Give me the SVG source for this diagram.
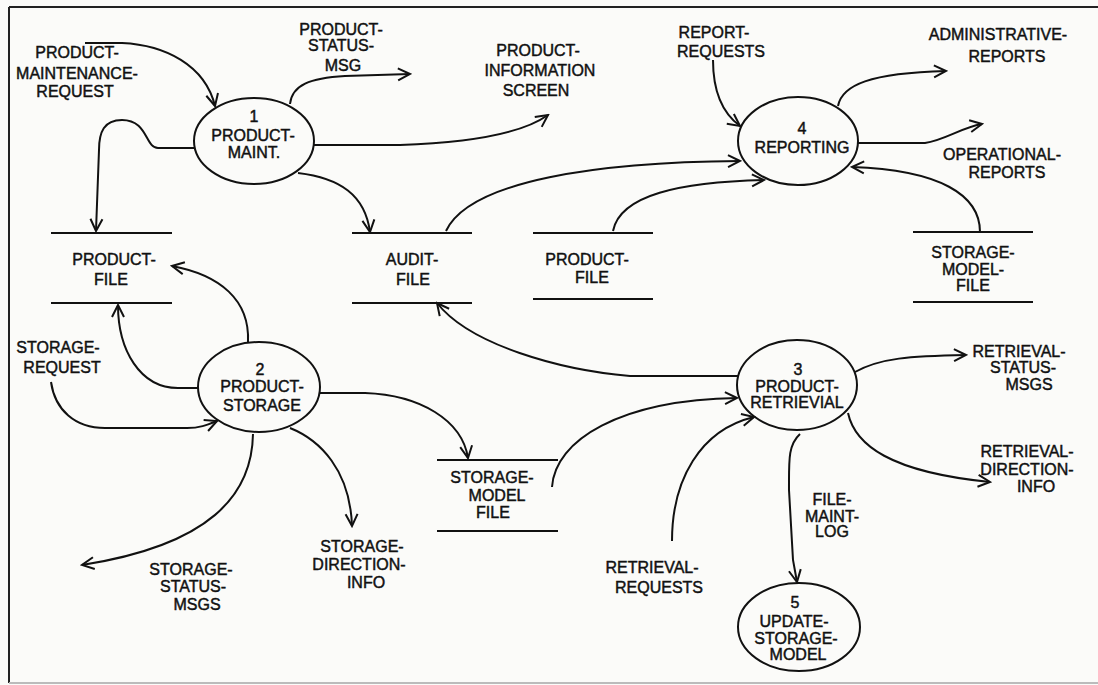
<svg xmlns="http://www.w3.org/2000/svg" width="1098" height="685" viewBox="0 0 1098 685">
<defs>
<marker id="arr" viewBox="-14 -8 16 16" refX="0" refY="0" markerWidth="16" markerHeight="16" markerUnits="userSpaceOnUse" orient="auto">
<path d="M-12,-6 L0,0 L-12,6" fill="none" stroke="#111" stroke-width="2"/>
</marker>
<style>
text{font-family:"Liberation Sans",Arial,sans-serif;font-size:16px;fill:#111;stroke:#111;stroke-width:0.45;text-anchor:middle}
.proc{fill:none;stroke:#111;stroke-width:2}
.store line{stroke:#111;stroke-width:2}
#connectors path{fill:none;stroke:#111;stroke-width:2;marker-end:url(#arr)}
</style>
</defs>
<rect x="0" y="0" width="1098" height="685" fill="#fbfbf9"/>
<g id="frame">
<line x1="9" y1="7" x2="1098" y2="7" stroke="#222" stroke-width="2"/>
<line x1="9" y1="7" x2="9" y2="683" stroke="#222" stroke-width="2"/>
<line x1="9" y1="683" x2="1098" y2="683" stroke="#bbb" stroke-width="2"/>
</g>

<g id="connectors">
<path d="M85,43 H122 C165,45 205,65 215,106"/>
<path d="M290,104 C292,85 310,78 345,76 L410,74"/>
<path d="M314,145 L400,145 C460,143 520,135 548,115"/>
<path d="M194,148 H158 C145,148 148,120 122,120 C104,120 99,132 99,150 L96,231"/>
<path d="M298,173 C340,178 365,195 370,232"/>
<path d="M248,342 C250,300 220,275 172,266"/>
<path d="M198,388 H178 C140,388 118,350 118,305"/>
<path d="M51,382 C55,410 75,428 105,428 H187 C200,428 207,425 217,421"/>
<path d="M320,393 H365 C420,395 462,420 468,458"/>
<path d="M290,428 C320,440 350,470 352,526"/>
<path d="M253,434 C252,495 210,545 82,565"/>
<path d="M738,376 H630 C560,370 470,345 437,303"/>
<path d="M552,487 C555,440 620,400 737,398"/>
<path d="M672,541 C672,480 700,430 754,417"/>
<path d="M855,372 C880,358 910,356 966,355"/>
<path d="M848,413 C855,445 890,472 990,482"/>
<path d="M800,434 C788,445 789,460 789,490 L793,560 L797,582"/>
<path d="M713,60 C713,95 725,115 740,126"/>
<path d="M446,231 C470,180 600,162 740,161"/>
<path d="M613,231 C620,195 680,182 764,180"/>
<path d="M858,143 H925 C945,140 960,128 982,124"/>
<path d="M838,106 C842,85 870,73 946,71"/>
<path d="M980,232 C980,195 940,170 852,167"/>
</g>

<g id="node1">
<ellipse class="proc" cx="254" cy="141" rx="60" ry="43"/>
<text x="254" y="122">1</text>
<text x="253" y="141">PRODUCT-</text>
<text x="254" y="158">MAINT.</text>
</g>
<g id="node2">
<ellipse class="proc" cx="259" cy="387" rx="61" ry="45"/>
<text x="260" y="375">2</text>
<text x="262" y="392">PRODUCT-</text>
<text x="262" y="411">STORAGE</text>
</g>
<g id="node3">
<ellipse class="proc" cx="797" cy="385" rx="60" ry="45"/>
<text x="798" y="375">3</text>
<text x="797" y="392">PRODUCT-</text>
<text x="797" y="408">RETRIEVIAL</text>
</g>
<g id="node4">
<ellipse class="proc" cx="798" cy="141" rx="60" ry="44"/>
<text x="802" y="134">4</text>
<text x="802" y="153">REPORTING</text>
</g>
<g id="node5">
<ellipse class="proc" cx="799" cy="627" rx="61" ry="44"/>
<text x="795" y="608">5</text>
<text x="794" y="627">UPDATE-</text>
<text x="796" y="644">STORAGE-</text>
<text x="798" y="660">MODEL</text>
</g>

<g id="store-product-file-1" class="store">
<line x1="51" y1="233" x2="172" y2="233"/>
<line x1="51" y1="303" x2="172" y2="303"/>
<text x="114" y="265">PRODUCT-</text>
<text x="111" y="285">FILE</text>
</g>
<g id="store-audit-file" class="store">
<line x1="352" y1="233" x2="472" y2="233"/>
<line x1="352" y1="303" x2="472" y2="303"/>
<text x="412" y="265">AUDIT-</text>
<text x="413" y="285">FILE</text>
</g>
<g id="store-product-file-2" class="store">
<line x1="533" y1="233" x2="653" y2="233"/>
<line x1="533" y1="299" x2="653" y2="299"/>
<text x="587" y="265">PRODUCT-</text>
<text x="592" y="283">FILE</text>
</g>
<g id="store-storage-model-file-1" class="store">
<line x1="913" y1="232" x2="1033" y2="232"/>
<line x1="913" y1="302" x2="1033" y2="302"/>
<text x="973" y="258">STORAGE-</text>
<text x="973" y="275">MODEL-</text>
<text x="973" y="291">FILE</text>
</g>
<g id="store-storage-model-file-2" class="store">
<line x1="437" y1="460" x2="558" y2="460"/>
<line x1="437" y1="531" x2="558" y2="531"/>
<text x="492" y="483">STORAGE-</text>
<text x="497" y="501">MODEL</text>
<text x="493" y="518">FILE</text>
</g>

<g id="labels">
<text x="77" y="58">PRODUCT-</text>
<text x="77" y="79">MAINTENANCE-</text>
<text x="75" y="97">REQUEST</text>
<text x="341" y="35">PRODUCT-</text>
<text x="341" y="51">STATUS-</text>
<text x="343" y="71">MSG</text>
<text x="538" y="56">PRODUCT-</text>
<text x="540" y="76">INFORMATION</text>
<text x="536" y="96">SCREEN</text>
<text x="714" y="38">REPORT-</text>
<text x="721" y="57">REQUESTS</text>
<text x="998" y="40">ADMINISTRATIVE-</text>
<text x="1007" y="62">REPORTS</text>
<text x="1002" y="160">OPERATIONAL-</text>
<text x="1007" y="178">REPORTS</text>
<text x="58" y="353">STORAGE-</text>
<text x="62" y="373">REQUEST</text>
<text x="191" y="575">STORAGE-</text>
<text x="193" y="592">STATUS-</text>
<text x="197" y="610">MSGS</text>
<text x="362" y="552">STORAGE-</text>
<text x="359" y="570">DIRECTION-</text>
<text x="366" y="588">INFO</text>
<text x="652" y="573">RETRIEVAL-</text>
<text x="659" y="593">REQUESTS</text>
<text x="1019" y="357">RETRIEVAL-</text>
<text x="1023" y="373">STATUS-</text>
<text x="1029" y="390">MSGS</text>
<text x="1027" y="457">RETRIEVAL-</text>
<text x="1027" y="475">DIRECTION-</text>
<text x="1036" y="492">INFO</text>
<text x="832" y="505">FILE-</text>
<text x="832" y="522">MAINT-</text>
<text x="832" y="537">LOG</text>
</g>
</svg>
